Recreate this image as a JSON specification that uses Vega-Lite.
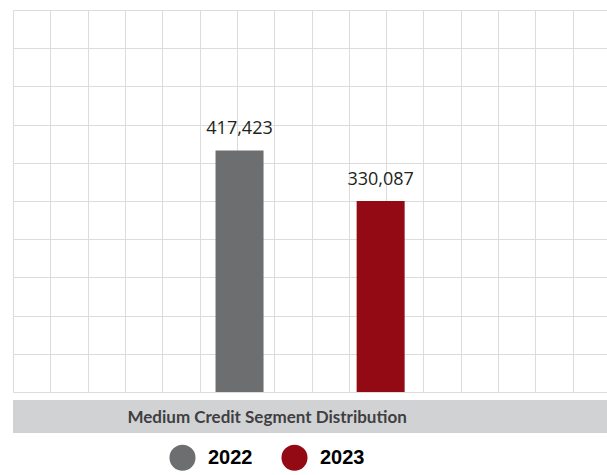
{
  "$schema": "https://vega.github.io/schema/vega-lite/v6.json",
  "padding": {"left": 13, "top": 10, "right": 0, "bottom": 0},
  "background": "white",
  "config": {
    "view": {"stroke": null},
    "concat": {"spacing": 8}
  },
  "datasets": {
    "bars": [
      {"year": "2022", "yr": 2022, "value": 417423},
      {"year": "2023", "yr": 2023, "value": 330087}
    ],
    "band": [{"label": "Medium Credit Segment Distribution", "pos": 6.81}]
  },
  "vconcat": [
    {
      "width": 597,
      "height": 382,
      "layer": [
        {
          "data": {"name": "bars"},
          "mark": {"type": "point", "opacity": 0, "size": 0, "strokeWidth": 0},
          "encoding": {
            "x": {"datum": 8, "type": "quantitative", "scale": {"domain": [0, 16], "nice": false},
              "axis": {"values": [0,1,2,3,4,5,6,7,8,9,10,11,12,13,14,15,16], "grid": true, "gridColor": "#dcdcdc", "gridWidth": 1, "labels": false, "ticks": false, "domain": false, "title": null}}
          }
        },
        {
          "data": {"name": "bars"},
          "encoding": {
            "x": {"field": "yr", "type": "quantitative", "scale": {"domain": [2020.43, 2024.59], "nice": false, "zero": false}, "axis": null},
            "y": {"field": "value", "type": "quantitative", "scale": {"domain": [0, 660000], "nice": false},
              "axis": {"values": [0,66000,132000,198000,264000,330000,396000,462000,528000,594000,660000], "grid": true, "gridColor": "#dcdcdc", "gridWidth": 1, "labels": false, "ticks": false, "domain": false, "title": null}}
          },
          "layer": [
            {
              "mark": {"type": "bar", "width": 48},
              "encoding": {
                "color": {"field": "year", "type": "nominal",
                  "scale": {"domain": ["2022", "2023"], "range": ["#6d6e70", "#930a14"]},
                  "legend": {
                    "orient": "none", "legendX": 156, "legendY": 434, "direction": "horizontal",
                    "title": null, "symbolType": "circle", "symbolSize": 680, "symbolStrokeWidth": 0,
                    "labelFont": "Liberation Sans", "labelFontWeight": "bold", "labelFontSize": 20, "labelColor": "#000000",
                    "labelOffset": 12, "columnPadding": 28, "padding": 0,
                    "encode": {"symbols": {"update": {"fill": {"signal": "datum.value == '2023' ? '#b3121b' : '#6d6e70'"}, "opacity": {"value": 1}}}}
                  }}
              }
            },
            {
              "mark": {"type": "text", "baseline": "alphabetic", "dy": -16, "font": "Open Sans", "fontSize": 18, "color": "#231f20"},
              "encoding": {"text": {"field": "value", "type": "quantitative", "format": ",d"}}
            }
          ]
        }
      ],
      "resolve": {"scale": {"x": "independent"}}
    },
    {
      "width": 597,
      "height": 33,
      "view": {"fill": "#d1d2d4", "stroke": null},
      "data": {"name": "band"},
      "mark": {"type": "text", "font": "Lato", "fontWeight": "bold", "fontSize": 17, "color": "#3f3f41", "baseline": "middle", "dy": 1},
      "encoding": {
        "x": {"field": "pos", "type": "quantitative", "scale": {"domain": [0, 16], "nice": false}, "axis": null},
        "text": {"field": "label", "type": "nominal"}
      }
    }
  ]
}
